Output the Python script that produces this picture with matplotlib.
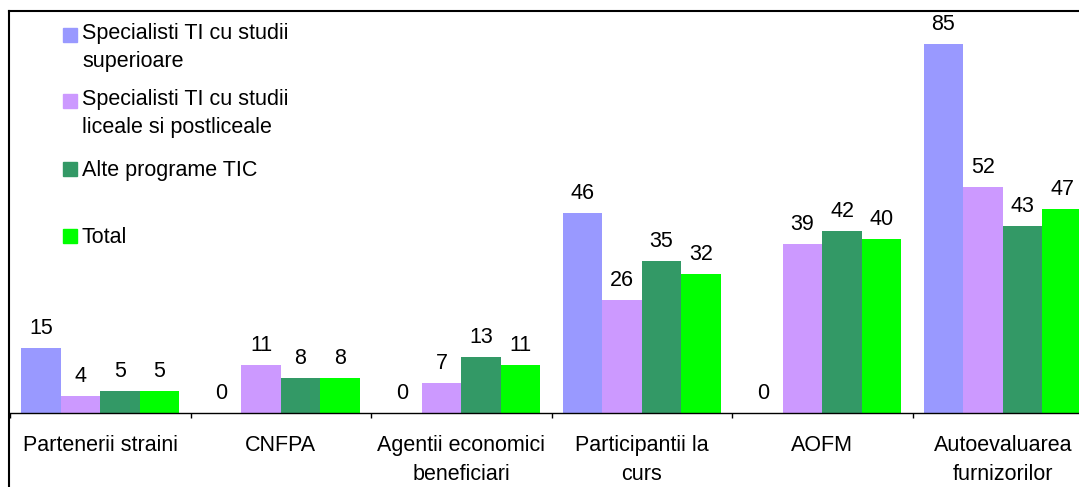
import numpy as np
import matplotlib.pyplot as plt
from matplotlib.lines import Line2D
from matplotlib.patches import Rectangle

plt.rcParams['font.family'] = ['Liberation Sans', 'DejaVu Sans']

categories = ['Partenerii straini', 'CNFPA', 'Agentii economici\nbeneficiari',
              'Participantii la\ncurs', 'AOFM', 'Autoevaluarea\nfurnizorilor']
series_names = ['Specialisti TI cu studii\nsuperioare',
                'Specialisti TI cu studii\nliceale si postliceale',
                'Alte programe TIC', 'Total']
spec_sup = [15, 0, 0, 46, 0, 85]
spec_lic = [4, 11, 7, 26, 39, 52]
alte_tic = [5, 8, 13, 35, 42, 43]
total = [5, 8, 11, 32, 40, 47]
colors = ['#9999FF', '#CC99FF', '#339966', '#00FF00']

FS = 15.5
W, H = 1079, 487
fig = plt.figure(figsize=(W / 100, H / 100), dpi=100)
ax = fig.add_axes([10 / W, 74 / H, 1083 / W, 402 / H])

x = np.arange(len(categories))
bw = 0.219
for i, (vals, c) in enumerate(zip([spec_sup, spec_lic, alte_tic, total], colors)):
    pos = x + (i - 1.5) * bw
    ax.bar(pos, vals, width=bw, color=c, linewidth=0)
    for px, v in zip(pos, vals):
        ax.annotate(str(v), (px, v), xytext=(0, 10), textcoords='offset points',
                    ha='center', va='baseline', fontsize=FS)

ax.set_xlim(-0.5, 5.5)
ax.set_ylim(0, 92.6)
ax.set_yticks([])
for s in ['left', 'top', 'right']:
    ax.spines[s].set_visible(False)
ax.spines['bottom'].set_linewidth(1)
ax.set_xticks(x)
ax.set_xticklabels(categories, fontsize=FS, linespacing=1.5)
ax.tick_params(axis='x', which='major', length=0, pad=15.5)
ax.set_xticks(np.arange(-0.5, 6, 1), minor=True)
ax.tick_params(axis='x', which='minor', length=3.6, width=1, direction='out')

# legend drawn in pixel positions (Excel-like uneven spacing)
sq_base = [42, 108, 176, 243]
txt_base = [67, 133, 176, 243]
for name, c, yb, yt in zip(series_names, colors, sq_base, txt_base):
    fig.patches.append(Rectangle((63 / W, 1 - yb / H), 14 / W, 14 / H,
                                 transform=fig.transFigure, color=c))
    fig.text(82 / W, 1 - yt / H, name, fontsize=FS, va='baseline',
             ha='left', linespacing=1.45)

# chart-area border (cropped)
fig.add_artist(Line2D([9 / W, 9 / W], [0, 1 - 11 / H], color='black', lw=1.5))
fig.add_artist(Line2D([9 / W, 1], [1 - 11 / H, 1 - 11 / H], color='black', lw=1.5))

fig.savefig('out.png', dpi=100)
